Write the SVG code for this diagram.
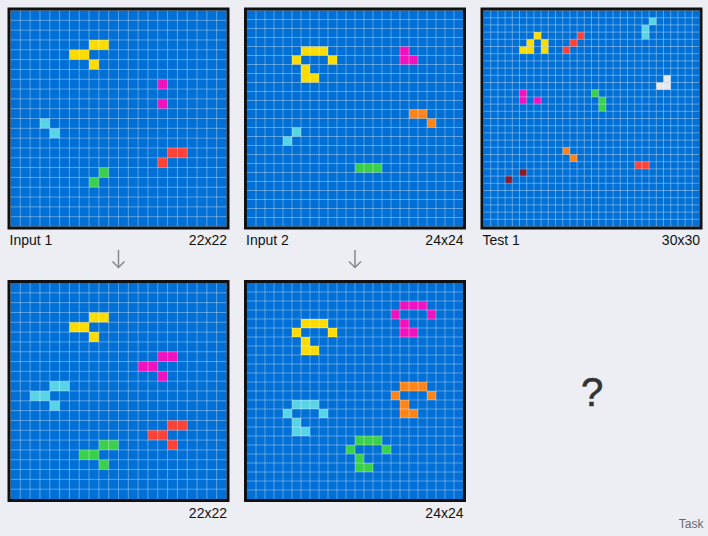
<svg xmlns="http://www.w3.org/2000/svg" width="708" height="536" viewBox="0 0 708 536">
<style>
.bg{fill:#0070D6}
.fr{fill:none;stroke:#111;stroke-width:3}
.gl{fill:none;stroke:#ffffff;stroke-opacity:0.35;stroke-width:1}
.y{fill:#FFDC00}.m{fill:#F012BE}.c{fill:#58D3E8}.r{fill:#FF4136}.g{fill:#3AD04B}.o{fill:#FF851B}.w{fill:#E8E8E8}.mr{fill:#8B1A2C}
.lb{font-family:"Liberation Sans",Arial,sans-serif;font-size:14px;fill:#111}
.q{font-family:"Liberation Sans",Arial,sans-serif;font-size:40px;fill:#333;stroke:#333;stroke-width:0.6}
.tk{font-family:"Liberation Sans",Arial,sans-serif;font-size:12px;fill:#666}
.ar{fill:none;stroke:#888;stroke-width:1.5}
</style>
<defs>
<path id="l22" d="M0 1H22M0 2H22M0 3H22M0 4H22M0 5H22M0 6H22M0 7H22M0 8H22M0 9H22M0 10H22M0 11H22M0 12H22M0 13H22M0 14H22M0 15H22M0 16H22M0 17H22M0 18H22M0 19H22M0 20H22M0 21H22M1 0V22M2 0V22M3 0V22M4 0V22M5 0V22M6 0V22M7 0V22M8 0V22M9 0V22M10 0V22M11 0V22M12 0V22M13 0V22M14 0V22M15 0V22M16 0V22M17 0V22M18 0V22M19 0V22M20 0V22M21 0V22" class="gl" vector-effect="non-scaling-stroke"/>
<path id="l24" d="M0 1H24M0 2H24M0 3H24M0 4H24M0 5H24M0 6H24M0 7H24M0 8H24M0 9H24M0 10H24M0 11H24M0 12H24M0 13H24M0 14H24M0 15H24M0 16H24M0 17H24M0 18H24M0 19H24M0 20H24M0 21H24M0 22H24M0 23H24M1 0V24M2 0V24M3 0V24M4 0V24M5 0V24M6 0V24M7 0V24M8 0V24M9 0V24M10 0V24M11 0V24M12 0V24M13 0V24M14 0V24M15 0V24M16 0V24M17 0V24M18 0V24M19 0V24M20 0V24M21 0V24M22 0V24M23 0V24" class="gl" vector-effect="non-scaling-stroke"/>
<path id="l30" d="M0 1H30M0 2H30M0 3H30M0 4H30M0 5H30M0 6H30M0 7H30M0 8H30M0 9H30M0 10H30M0 11H30M0 12H30M0 13H30M0 14H30M0 15H30M0 16H30M0 17H30M0 18H30M0 19H30M0 20H30M0 21H30M0 22H30M0 23H30M0 24H30M0 25H30M0 26H30M0 27H30M0 28H30M0 29H30M1 0V30M2 0V30M3 0V30M4 0V30M5 0V30M6 0V30M7 0V30M8 0V30M9 0V30M10 0V30M11 0V30M12 0V30M13 0V30M14 0V30M15 0V30M16 0V30M17 0V30M18 0V30M19 0V30M20 0V30M21 0V30M22 0V30M23 0V30M24 0V30M25 0V30M26 0V30M27 0V30M28 0V30M29 0V30" class="gl" vector-effect="non-scaling-stroke"/>
</defs>
<rect width="708" height="536" fill="#EDEEF4"/>

<g id="input1">
<rect class="bg" x="10.5" y="10.5" width="216" height="216"/>
<g transform="translate(10.5,10.5) scale(9.81818)">
<rect class="y" x="8" y="3" width="2" height="1"/><rect class="y" x="6" y="4" width="2" height="1"/><rect class="y" x="8" y="5" width="1" height="1"/>
<rect class="m" x="15" y="7" width="1" height="1"/><rect class="m" x="15" y="9" width="1" height="1"/>
<rect class="c" x="3" y="11" width="1" height="1"/><rect class="c" x="4" y="12" width="1" height="1"/>
<rect class="r" x="16" y="14" width="2" height="1"/><rect class="r" x="15" y="15" width="1" height="1"/>
<rect class="g" x="9" y="16" width="1" height="1"/><rect class="g" x="8" y="17" width="1" height="1"/>
<use href="#l22"/>
</g>
<rect class="fr" x="9" y="9" width="219" height="219"/>
<text class="lb" x="9.5" y="244.5">Input 1</text>
<text class="lb" x="227" y="244.5" text-anchor="end">22x22</text>
</g>

<g id="input2">
<rect class="bg" x="247" y="10.5" width="216" height="216"/>
<g transform="translate(247,10.5) scale(9)">
<rect class="y" x="6" y="4" width="3" height="1"/><rect class="y" x="5" y="5" width="1" height="1"/><rect class="y" x="9" y="5" width="1" height="1"/><rect class="y" x="6" y="6" width="1" height="1"/><rect class="y" x="6" y="7" width="2" height="1"/>
<rect class="m" x="17" y="4" width="1" height="1"/><rect class="m" x="17" y="5" width="2" height="1"/>
<rect class="o" x="18" y="11" width="2" height="1"/><rect class="o" x="20" y="12" width="1" height="1"/>
<rect class="c" x="5" y="13" width="1" height="1"/><rect class="c" x="4" y="14" width="1" height="1"/>
<rect class="g" x="12" y="17" width="3" height="1"/>
<use href="#l24"/>
</g>
<rect class="fr" x="245.5" y="9" width="219" height="219"/>
<text class="lb" x="246" y="244.5">Input 2</text>
<text class="lb" x="463.5" y="244.5" text-anchor="end">24x24</text>
</g>

<g id="test1">
<rect class="bg" x="483.5" y="10.5" width="216" height="216"/>
<g transform="translate(483.5,10.5) scale(7.2)">
<rect class="y" x="7" y="3" width="1" height="1"/><rect class="y" x="6" y="4" width="1" height="1"/><rect class="y" x="8" y="4" width="1" height="1"/><rect class="y" x="5" y="5" width="2" height="1"/><rect class="y" x="8" y="5" width="1" height="1"/>
<rect class="r" x="13" y="3" width="1" height="1"/><rect class="r" x="12" y="4" width="1" height="1"/><rect class="r" x="11" y="5" width="1" height="1"/><rect class="r" x="21" y="21" width="2" height="1"/>
<rect class="c" x="23" y="1" width="1" height="1"/><rect class="c" x="22" y="2" width="1" height="2"/>
<rect class="w" x="25" y="9" width="1" height="1"/><rect class="w" x="24" y="10" width="2" height="1"/>
<rect class="m" x="5" y="11" width="1" height="2"/><rect class="m" x="7" y="12" width="1" height="1"/>
<rect class="g" x="15" y="11" width="1" height="1"/><rect class="g" x="16" y="12" width="1" height="2"/>
<rect class="o" x="11" y="19" width="1" height="1"/><rect class="o" x="12" y="20" width="1" height="1"/>
<rect class="mr" x="5" y="22" width="1" height="1"/><rect class="mr" x="3" y="23" width="1" height="1"/>
<use href="#l30"/>
</g>
<rect class="fr" x="482" y="9" width="219" height="219"/>
<text class="lb" x="482.5" y="244.5">Test 1</text>
<text class="lb" x="700" y="244.5" text-anchor="end">30x30</text>
</g>

<g id="output1">
<rect class="bg" x="10.5" y="283" width="216" height="216"/>
<g transform="translate(10.5,283) scale(9.81818)">
<rect class="y" x="8" y="3" width="2" height="1"/><rect class="y" x="6" y="4" width="2" height="1"/><rect class="y" x="8" y="5" width="1" height="1"/>
<rect class="m" x="15" y="7" width="2" height="1"/><rect class="m" x="13" y="8" width="2" height="1"/><rect class="m" x="15" y="9" width="1" height="1"/>
<rect class="c" x="4" y="10" width="2" height="1"/><rect class="c" x="2" y="11" width="2" height="1"/><rect class="c" x="4" y="12" width="1" height="1"/>
<rect class="r" x="16" y="14" width="2" height="1"/><rect class="r" x="14" y="15" width="2" height="1"/><rect class="r" x="16" y="16" width="1" height="1"/>
<rect class="g" x="9" y="16" width="2" height="1"/><rect class="g" x="7" y="17" width="2" height="1"/><rect class="g" x="9" y="18" width="1" height="1"/>
<use href="#l22"/>
</g>
<rect class="fr" x="9" y="281.5" width="219" height="219"/>
<text class="lb" x="227" y="517.5" text-anchor="end">22x22</text>
</g>

<g id="output2">
<rect class="bg" x="247" y="283" width="216" height="216"/>
<g transform="translate(247,283) scale(9)">
<rect class="y" x="6" y="4" width="3" height="1"/><rect class="y" x="5" y="5" width="1" height="1"/><rect class="y" x="9" y="5" width="1" height="1"/><rect class="y" x="6" y="6" width="1" height="1"/><rect class="y" x="6" y="7" width="2" height="1"/>
<rect class="m" x="17" y="2" width="3" height="1"/><rect class="m" x="16" y="3" width="1" height="1"/><rect class="m" x="20" y="3" width="1" height="1"/><rect class="m" x="17" y="4" width="1" height="1"/><rect class="m" x="17" y="5" width="2" height="1"/>
<rect class="o" x="17" y="11" width="3" height="1"/><rect class="o" x="16" y="12" width="1" height="1"/><rect class="o" x="20" y="12" width="1" height="1"/><rect class="o" x="17" y="13" width="1" height="1"/><rect class="o" x="17" y="14" width="2" height="1"/>
<rect class="c" x="5" y="13" width="3" height="1"/><rect class="c" x="4" y="14" width="1" height="1"/><rect class="c" x="8" y="14" width="1" height="1"/><rect class="c" x="5" y="15" width="1" height="1"/><rect class="c" x="5" y="16" width="2" height="1"/>
<rect class="g" x="12" y="17" width="3" height="1"/><rect class="g" x="11" y="18" width="1" height="1"/><rect class="g" x="15" y="18" width="1" height="1"/><rect class="g" x="12" y="19" width="1" height="1"/><rect class="g" x="12" y="20" width="2" height="1"/>
<use href="#l24"/>
</g>
<rect class="fr" x="245.5" y="281.5" width="219" height="219"/>
<text class="lb" x="463.5" y="517.5" text-anchor="end">24x24</text>
</g>

<g id="test1-output">
<text class="q" x="592" y="405.5" text-anchor="middle">?</text>
</g>

<g id="connectors">
<path class="ar" d="M118.5 250V267.5M112.5 261.5L118.5 267.5L124.5 261.5"/>
<path class="ar" d="M355 250V267.5M349 261.5L355 267.5L361 261.5"/>
</g>

<text class="tk" x="703.5" y="528" text-anchor="end">Task</text>
</svg>
